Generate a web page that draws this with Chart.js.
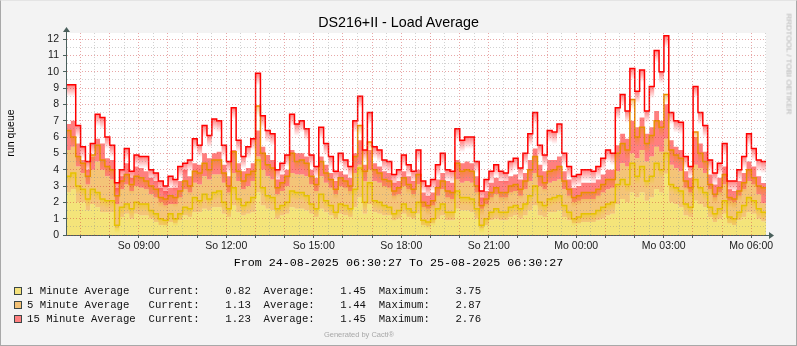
<!DOCTYPE html>
<html>
<head>
<meta charset="utf-8">
<title>DS216+II - Load Average</title>
<script src="https://cdn.jsdelivr.net/npm/chart.js@4.4.1/dist/chart.umd.min.js"></script>
<style>
  html, body { margin: 0; padding: 0; background: #f3f3f3; }
  #graph { position: relative; width: 797px; height: 346px; background: #f3f3f3; overflow: hidden; }
  #graph canvas { position: absolute; left: 0; top: 0; }
  #edge { position: absolute; left: 0; top: 0; width: 797px; height: 346px; box-sizing: border-box;
          border: 1px solid; border-color: #e4e4e4 #a8a8a8 #a8a8a8 #a8a8a8; pointer-events: none; }
  .t { position: absolute; white-space: pre; color: #000; }
  .sans { font-family: "Liberation Sans", Arial, sans-serif; }
  .mono { font-family: "Liberation Mono", "Courier New", monospace; }
  #title { left: 0; width: 797px; top: 13px; text-align: center; font-size: 14.3px; line-height: 18px; }
  #ylabel { left: 10px; top: 133px; font-size: 10.5px; transform: translate(-50%, -50%) rotate(-90deg); }
  #vendor { left: 789px; top: 64px; font-size: 8px; color: #b4b4b4; transform: translate(-50%, -50%) rotate(90deg); }
  #range { left: 0; width: 797px; top: 256px; text-align: center; font-size: 11.7px; line-height: 14px; }
  .row { left: 27px; font-size: 10.67px; line-height: 14px; color: #111; }
  .swatch { position: absolute; left: 14px; width: 6px; height: 6px; border: 1px solid #3a4646; }
  #footer { left: 0; width: 718px; top: 330px; text-align: center; font-size: 7.5px; color: #a8a8a8; }
</style>
</head>
<body>
<div id="graph">
  <canvas id="load" width="797" height="346"></canvas>
  <div id="title" class="t sans">DS216+II - Load Average</div>
  <div id="ylabel" class="t sans">run queue</div>
  <div id="vendor" class="t sans">RRDTOOL / TOBI OETIKER</div>
  <div id="range" class="t mono">From 24-08-2025 06:30:27 To 25-08-2025 06:30:27</div>
  <div class="swatch" style="top:287px; background:#f5e27c"></div>
  <div class="swatch" style="top:301px; background:#f3c176"></div>
  <div class="swatch" style="top:315px; background:#ff8080"></div>
  <div class="t mono row" style="top:284px">1 Minute Average   Current:    0.82  Average:    1.45  Maximum:    3.75</div>
  <div class="t mono row" style="top:298px">5 Minute Average   Current:    1.13  Average:    1.44  Maximum:    2.87</div>
  <div class="t mono row" style="top:312px">15 Minute Average  Current:    1.23  Average:    1.45  Maximum:    2.76</div>
  <div id="footer" class="t sans">Generated by Cacti®</div>
  <div id="edge"></div>
</div>
<script>
// 10-minute bins starting 24-08-2025 06:30:27; values are stacked run-queue levels
const startOffset = 6 * 60 + 30 + 27 / 60; // minutes after Sunday 00:00
const binMinutes = 10;
const spanMinutes = 1440;

const tickHours = [9, 12, 15, 18, 21, 24, 27, 30];
const tickLabels = ['So 09:00', 'So 12:00', 'So 15:00', 'So 18:00', 'So 21:00', 'Mo 00:00', 'Mo 03:00', 'Mo 06:00'];
const yLabels = [0, 1, 2, 3, 4, 5, 6, 7, 8, 9, 10, 11, 12];

// stacked tops of the average areas
const oneMinArea = [
  2.6, 2.8, 2.0, 2.0, 1.5, 1.9, 1.7, 1.4, 1.4, 1.4, 0.4, 1.1, 1.3, 1.0, 1.3, 1.2, 1.2, 1.0, 0.8, 0.6, 0.6, 0.8, 0.7, 0.9, 1.2,
  1.1, 1.4, 1.4, 1.6, 1.5, 1.7, 1.7, 1.3, 1.1, 1.8, 1.4, 1.2, 1.3, 1.4, 2.6, 1.8, 1.6, 1.5, 1.0, 1.2, 1.3, 1.7, 1.6,
  1.6, 1.5, 1.3, 1.1, 1.6, 1.4, 1.2, 1.0, 1.3, 1.2, 1.1, 1.7, 2.3, 1.3, 1.9, 1.4, 1.3, 1.2, 1.2, 0.9, 1.0, 1.3, 1.1, 1.0, 1.3,
  0.6, 0.5, 0.7, 1.0, 1.2, 0.9, 0.9, 1.6, 1.5, 1.5, 1.4, 1.0, 0.4, 0.6, 0.9, 1.0, 0.9, 0.9, 1.1, 1.2, 1.0, 1.2, 1.5, 1.8,
  1.2, 1.1, 1.4, 1.4, 1.5, 1.1, 0.9, 0.7, 0.7, 0.8, 0.8, 0.8, 0.9, 1.0, 1.2, 1.3, 1.9, 2.2, 2.0, 2.6, 2.3, 2.6, 2.1,
  2.3, 2.8, 2.6, 3.75, 2.0, 1.9, 1.7, 1.2, 1.1, 2.1, 1.9, 1.7, 1.1, 0.8, 1.0, 1.3, 0.7, 0.6, 0.9, 1.1, 1.4, 1.3, 1.0, 0.82
];
const fiveMinArea = [
  5.2, 5.4, 4.2, 3.8, 3.1, 4.0, 4.5, 4.0, 3.6, 3.4, 1.9, 2.8, 3.1, 2.7, 3.0, 2.9, 2.8, 2.5, 2.3, 2.0, 1.8, 1.9, 1.9, 2.3, 2.8,
  2.6, 3.2, 3.1, 3.6, 3.4, 3.7, 3.7, 3.2, 2.6, 3.8, 3.3, 2.8, 3.0, 3.3, 4.8, 4.0, 3.6, 3.4, 2.5, 2.7, 3.0, 3.8, 3.7,
  3.7, 3.6, 3.1, 2.7, 3.6, 3.2, 2.9, 2.5, 3.0, 2.9, 2.7, 3.8, 4.3, 3.3, 4.0, 3.3, 3.2, 3.0, 2.9, 2.4, 2.5, 3.0, 2.8, 2.5, 3.1,
  1.7, 1.6, 1.8, 2.4, 2.8, 2.3, 2.2, 3.4, 3.2, 3.3, 3.2, 2.6, 1.6, 1.9, 2.3, 2.5, 2.3, 2.3, 2.6, 2.7, 2.4, 2.8, 3.3, 3.8,
  3.0, 2.8, 3.2, 3.3, 3.4, 2.8, 2.4, 2.0, 2.1, 2.2, 2.2, 2.2, 2.4, 2.6, 2.8, 2.9, 3.9, 4.4, 4.2, 5.0, 4.7, 5.2, 4.5,
  4.8, 5.4, 5.1, 5.9, 4.3, 4.1, 3.9, 2.9, 2.6, 4.3, 4.1, 3.8, 2.8, 2.3, 2.6, 3.1, 2.1, 2.0, 2.4, 2.8, 3.3, 3.1, 2.5, 1.95
];
const fifteenMinArea = [
  6.8, 7.0, 5.6, 4.6, 4.0, 4.8, 5.9, 5.6, 4.7, 4.6, 2.9, 3.6, 4.4, 3.5, 4.2, 4.1, 3.9, 3.5, 3.3, 2.9, 2.7, 2.9, 2.9, 3.3, 4.0,
  3.6, 4.4, 4.3, 5.0, 4.7, 5.0, 5.1, 4.3, 3.6, 5.2, 4.4, 3.9, 4.1, 4.4, 6.4, 5.4, 4.9, 4.6, 3.4, 3.7, 4.0, 5.2, 5.0,
  5.0, 4.8, 4.0, 3.5, 4.8, 4.3, 3.8, 3.3, 3.9, 3.7, 3.5, 5.0, 5.8, 4.3, 5.2, 4.4, 4.2, 3.9, 3.8, 3.2, 3.3, 3.9, 3.6, 3.3, 4.0,
  2.6, 2.4, 2.6, 3.4, 3.8, 3.3, 3.2, 4.6, 4.4, 4.5, 4.4, 3.6, 2.3, 2.7, 3.2, 3.5, 3.3, 3.3, 3.6, 3.7, 3.4, 3.8, 4.6, 5.3,
  4.3, 3.9, 4.6, 4.6, 4.8, 3.9, 3.4, 2.9, 3.0, 3.2, 3.2, 3.2, 3.4, 3.7, 4.0, 4.0, 5.5, 6.2, 5.9, 7.0, 6.6, 7.2, 6.2,
  6.6, 7.6, 7.0, 8.0, 5.8, 5.4, 5.2, 3.9, 3.5, 6.0, 5.6, 5.1, 3.7, 3.1, 3.5, 4.2, 2.8, 2.7, 3.3, 3.8, 4.5, 4.2, 3.6, 3.18
];

// stacked peak lines
const oneMinPeak = [
  3.6, 3.8, 3.0, 2.8, 2.2, 2.8, 2.6, 2.2, 2.1, 2.1, 0.6, 1.7, 1.9, 1.6, 2.0, 1.9, 1.9, 1.5, 1.3, 1.0, 0.9, 1.3, 1.0, 1.3, 1.7,
  1.6, 2.3, 2.1, 2.5, 2.2, 2.6, 2.7, 2.0, 1.6, 2.9, 2.2, 1.8, 2.0, 2.3, 4.6, 2.9, 2.4, 2.3, 1.6, 1.8, 2.0, 2.7, 2.6,
  2.6, 2.4, 1.9, 1.6, 2.5, 2.1, 1.8, 1.4, 1.9, 1.8, 1.6, 2.8, 4.1, 2.0, 3.2, 2.1, 2.0, 1.8, 1.7, 1.3, 1.5, 1.9, 1.6, 1.4, 2.0,
  0.9, 0.8, 1.0, 1.6, 1.9, 1.4, 1.4, 2.7, 2.3, 2.3, 2.2, 1.6, 0.6, 1.0, 1.4, 1.6, 1.4, 1.4, 1.7, 1.8, 1.6, 1.9, 2.4, 3.0,
  2.0, 1.8, 2.2, 2.3, 2.4, 1.8, 1.4, 1.0, 1.1, 1.3, 1.3, 1.3, 1.5, 1.7, 1.9, 2.0, 3.1, 3.4, 3.1, 4.4, 3.6, 4.2, 3.3,
  3.6, 4.4, 4.0, 5.0, 3.1, 2.9, 2.7, 1.9, 1.7, 3.4, 2.9, 2.6, 1.7, 1.3, 1.6, 2.1, 1.1, 1.0, 1.4, 1.8, 2.3, 2.1, 1.6, 1.4
];
const fiveMinPeak = [
  6.4, 6.0, 4.8, 4.4, 3.6, 4.9, 5.5, 4.6, 4.2, 4.0, 2.4, 3.3, 3.7, 3.1, 3.6, 3.5, 3.3, 3.0, 2.8, 2.3, 2.2, 2.4, 2.3, 2.7, 3.3,
  3.0, 3.9, 3.8, 4.4, 4.0, 4.6, 4.6, 3.8, 3.0, 5.1, 3.9, 3.3, 3.7, 3.9, 7.9, 5.0, 4.3, 4.1, 2.9, 3.2, 3.6, 5.0, 4.5,
  4.6, 4.4, 3.6, 3.1, 4.5, 3.8, 3.4, 2.8, 3.5, 3.3, 3.0, 4.8, 6.7, 3.9, 5.7, 4.0, 3.8, 3.4, 3.3, 2.7, 2.9, 3.5, 3.1, 2.8, 3.7,
  2.0, 1.8, 2.1, 2.9, 3.3, 2.7, 2.6, 4.4, 3.9, 4.0, 3.9, 3.0, 1.8, 2.2, 2.6, 2.9, 2.6, 2.6, 3.0, 3.1, 2.8, 3.3, 4.0, 4.8,
  3.6, 3.2, 3.9, 4.0, 4.2, 3.3, 2.8, 2.3, 2.4, 2.6, 2.6, 2.6, 2.8, 3.1, 3.4, 3.4, 5.0, 5.6, 5.2, 8.3, 6.0, 6.6, 5.6,
  6.1, 7.0, 6.6, 8.6, 5.2, 4.9, 4.7, 3.3, 2.9, 6.3, 5.0, 4.5, 3.1, 2.5, 2.9, 3.7, 2.3, 2.2, 2.7, 3.2, 4.0, 3.5, 3.0, 2.9
];
const fifteenMinPeak = [
  9.2, 9.2, 6.7, 5.4, 4.5, 5.6, 7.4, 7.2, 6.0, 5.5, 3.2, 4.0, 5.3, 3.9, 4.9, 4.8, 4.8, 4.0, 3.8, 3.3,
  3.0, 3.6, 3.4, 4.2, 4.4, 4.6, 5.9, 5.5, 6.7, 6.1, 7.1, 7.0, 5.5, 4.5, 7.8, 5.8, 4.8, 5.4, 5.9, 9.9,
  7.3, 6.4, 6.2, 4.0, 4.4, 4.9, 7.4, 6.8, 7.0, 6.5, 4.9, 4.2, 6.6, 5.6, 4.8, 3.9, 5.0, 4.6, 4.2, 7.0,
  8.5, 5.2, 7.5, 5.4, 5.2, 4.6, 4.5, 3.7, 4.0, 4.9, 4.3, 3.9, 5.2, 3.3, 3.0, 3.4, 4.3, 5.0, 4.0, 3.9,
  6.5, 5.8, 6.0, 6.0, 4.5, 2.7, 3.4, 3.9, 4.3, 3.9, 3.8, 4.5, 4.7, 4.1, 5.0, 6.2, 7.5, 5.5, 4.9, 6.4,
  6.3, 6.8, 5.0, 4.2, 3.6, 3.7, 4.0, 4.0, 3.9, 4.2, 4.7, 5.2, 5.0, 7.8, 8.6, 7.6, 10.2, 8.8, 10.1, 7.6,
  9.1, 11.3, 10.0, 12.2, 7.5, 7.0, 6.9, 4.8, 4.2, 9.1, 7.5, 6.7, 4.6, 3.8, 4.4, 5.6, 3.3, 3.3, 4.0, 4.8,
  6.2, 5.3, 4.6, 4.5
];

const axisColor = '#4a605c';
const majorGrid = 'rgba(205, 60, 60, 0.45)';
const minorGrid = 'rgba(140, 140, 140, 0.4)';

// each bin holds its value until the next one; repeat the last value at the end
function toSteps(values) {
  const pts = values.map((v, i) => ({ x: i * binMinutes, y: v }));
  pts.push({ x: spanMinutes, y: values[values.length - 1] });
  return pts;
}

const hourOffset = (h) => h * 60 - startOffset;
const gridMinutes = [];
for (let m = 7 * 60; m - startOffset <= spanMinutes; m += 30) gridMinutes.push(m - startOffset);
const isHour = (v) => Math.abs(((v + startOffset) % 60 + 60) % 60) < 0.01 || Math.abs(((v + startOffset) % 60) - 60) < 0.01;

function xLabel(value) {
  const k = tickHours.findIndex((h) => Math.abs(hourOffset(h) - value) < 0.01);
  return k >= 0 ? tickLabels[k] : '';
}

function area(values, color, fill) {
  return {
    data: toSteps(values), stepped: true, fill, backgroundColor: color,
    borderWidth: 0, borderColor: 'rgba(0,0,0,0)', pointRadius: 0, order: 3,
  };
}
function peak(values, color, rgb, depth, order) {
  return {
    data: toSteps(values), stepped: true, fill: false, borderColor: color,
    borderWidth: 1.5, pointRadius: 0, order, bandRgb: rgb, bandDepth: depth,
  };
}

// soft fade under each peak line
const fadeBand = {
  id: 'fadeBand',
  beforeDatasetDraw(chart, args) {
    const ds = chart.data.datasets[args.index];
    if (!ds.bandRgb) return;
    const pts = args.meta.data;
    const ctx = chart.ctx;
    const a = chart.chartArea;
    ctx.save();
    ctx.beginPath();
    ctx.rect(a.left, a.top, a.right - a.left, a.bottom - a.top);
    ctx.clip();
    for (let j = 0; j < pts.length - 1; j++) {
      const x0 = pts[j].x, x1 = pts[j + 1].x, y = pts[j].y;
      const g = ctx.createLinearGradient(0, y, 0, y + ds.bandDepth);
      g.addColorStop(0, `rgba(${ds.bandRgb},0.5)`);
      g.addColorStop(1, `rgba(${ds.bandRgb},0)`);
      ctx.fillStyle = g;
      ctx.fillRect(x0, y, x1 - x0, ds.bandDepth);
    }
    ctx.restore();
  },
};

const frame = {
  id: 'frame',
  beforeDraw(chart) {
    const { ctx, chartArea: a } = chart;
    ctx.save();
    ctx.fillStyle = '#ffffff';
    ctx.fillRect(a.left, a.top, a.right - a.left, a.bottom - a.top);
    ctx.restore();
  },
  afterDraw(chart) {
    const { ctx, chartArea: a } = chart;
    const x = Math.round(a.left) + 0.5;
    const y = Math.round(a.bottom) + 0.5;
    ctx.save();
    ctx.strokeStyle = axisColor;
    ctx.fillStyle = axisColor;
    ctx.lineWidth = 1;
    ctx.beginPath();
    ctx.moveTo(x, a.top);
    ctx.lineTo(x, a.top - 3);
    ctx.moveTo(a.right, y);
    ctx.lineTo(a.right + 3, y);
    ctx.stroke();
    ctx.beginPath();
    ctx.moveTo(x - 3.5, a.top - 1);
    ctx.lineTo(x + 3.5, a.top - 1);
    ctx.lineTo(x, a.top - 6);
    ctx.closePath();
    ctx.fill();
    ctx.beginPath();
    ctx.moveTo(a.right + 3, y - 3.5);
    ctx.lineTo(a.right + 3, y + 3.5);
    ctx.lineTo(a.right + 8, y);
    ctx.closePath();
    ctx.fill();
    ctx.restore();
  },
};

const tickFont = { family: '"Liberation Sans", Arial, sans-serif', size: 10.5 };

new Chart(document.getElementById('load'), {
  type: 'line',
  data: {
    datasets: [
      area(oneMinArea, 'rgba(234, 204, 0, 0.52)', 'origin'),
      area(fiveMinArea, 'rgba(234, 143, 0, 0.53)', '-1'),
      area(fifteenMinArea, 'rgba(255, 0, 0, 0.5)', '-1'),
      peak(oneMinPeak, '#e6c200', '234,204,0', 8, 2),
      peak(fiveMinPeak, '#ea8f00', '234,143,0', 10, 1),
      peak(fifteenMinPeak, '#ff0000', '255,0,0', 12, 0),
    ],
  },
  options: {
    responsive: false,
    devicePixelRatio: 1,
    animation: false,
    layout: { padding: { left: 0, right: 31, top: 33, bottom: 0 } },
    plugins: { legend: { display: false }, tooltip: { enabled: false } },
    scales: {
      x: {
        type: 'linear', min: 0, max: spanMinutes,
        afterBuildTicks: (scale) => { scale.ticks = gridMinutes.map((v) => ({ value: v })); },
        afterFit: (scale) => { scale.height = 111; },
        ticks: { autoSkip: false, maxRotation: 0, padding: 2, color: '#1a1a1a', font: tickFont, callback: xLabel },
        grid: {
          z: 1, lineWidth: 1, tickLength: 3, tickBorderDash: [],
          color: (c) => (c.tick && isHour(c.tick.value) ? majorGrid : minorGrid),
          tickColor: (c) => (c.tick && isHour(c.tick.value) ? axisColor : 'rgba(0,0,0,0)'),
        },
        border: { display: true, color: axisColor, width: 1, dash: [1, 2], z: 1 },
      },
      y: {
        type: 'linear', min: 0, max: 12.37,
        afterBuildTicks: (scale) => {
          const t = [];
          for (let v = 0; v <= 12; v += 0.5) t.push({ value: v });
          scale.ticks = t;
        },
        afterFit: (scale) => { scale.width = 66; },
        ticks: {
          autoSkip: false, padding: 4, color: '#1a1a1a', font: tickFont,
          callback: (v) => (yLabels.includes(v) ? String(v) : ''),
        },
        grid: {
          z: 1, lineWidth: 1, tickLength: 3, tickBorderDash: [],
          color: (c) => (c.tick && Number.isInteger(c.tick.value) ? majorGrid : minorGrid),
          tickColor: (c) => (c.tick && Number.isInteger(c.tick.value) ? axisColor : 'rgba(0,0,0,0)'),
        },
        border: { display: true, color: axisColor, width: 1, dash: [1, 2], z: 1 },
      },
    },
  },
  plugins: [frame, fadeBand],
});
</script>
</body>
</html>
